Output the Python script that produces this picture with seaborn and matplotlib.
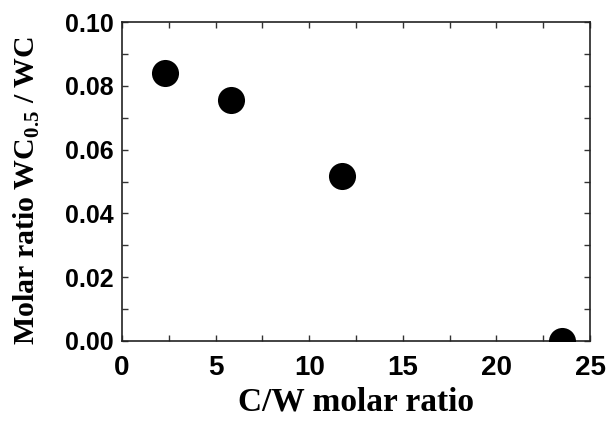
import matplotlib
matplotlib.use("Agg")
import matplotlib.pyplot as plt
from matplotlib.ticker import MultipleLocator, FormatStrFormatter
import seaborn as sns
import pandas as pd

# C/W molar ratio vs. WC0.5/WC molar ratio
cw_ratio = [2.3, 5.8, 11.75, 23.5]
wc_ratio = [0.0841, 0.0756, 0.0517, 0.0]

df = pd.DataFrame({"cw": cw_ratio, "wc": wc_ratio})

sns.set_style("ticks")
plt.rcParams["mathtext.fontset"] = "custom"
plt.rcParams["mathtext.rm"] = "Liberation Serif:bold"
plt.rcParams["mathtext.bf"] = "Liberation Serif:bold"
plt.rcParams["text.color"] = "black"
plt.rcParams["axes.labelcolor"] = "black"
plt.rcParams["xtick.color"] = "black"
plt.rcParams["ytick.color"] = "black"

fig = plt.figure(figsize=(6.07, 4.22), dpi=100)
ax = fig.add_axes([122 / 607, 81 / 422, 468 / 607, 319 / 422])

sns.scatterplot(data=df, x="cw", y="wc", ax=ax, s=380, color="black",
                edgecolor="black", linewidth=0, legend=False, zorder=3)

ax.set_xlim(0, 25)
ax.set_ylim(0, 0.10)
ax.xaxis.set_major_locator(MultipleLocator(5))
ax.xaxis.set_minor_locator(MultipleLocator(2.5))
ax.yaxis.set_major_locator(MultipleLocator(0.02))
ax.yaxis.set_minor_locator(MultipleLocator(0.01))
ax.yaxis.set_major_formatter(FormatStrFormatter("%.2f"))

ax.tick_params(which="both", direction="in", top=True, right=True,
               length=4.5, width=1, color="#333333",
               labelcolor="black")
ax.tick_params(axis="x", which="major", labelsize=20, pad=10)
ax.tick_params(axis="y", which="major", labelsize=18, pad=6)
for lbl in ax.get_xticklabels() + ax.get_yticklabels():
    lbl.set_fontfamily("Liberation Sans")
    lbl.set_fontweight("bold")

for sp in ax.spines.values():
    sp.set_linewidth(1.2)
    sp.set_color("#222222")

ax.set_xlabel("C/W molar ratio", fontfamily="Liberation Serif",
              fontweight="bold", fontsize=24, labelpad=4, color="black")
ax.set_ylabel(r"Molar ratio WC$_{0.5}$ / WC", fontfamily="Liberation Serif",
              fontweight="bold", fontsize=21.5, color="black")
ax.yaxis.set_label_coords(-0.172, 0.472)

fig.savefig("out.png", dpi=100)
